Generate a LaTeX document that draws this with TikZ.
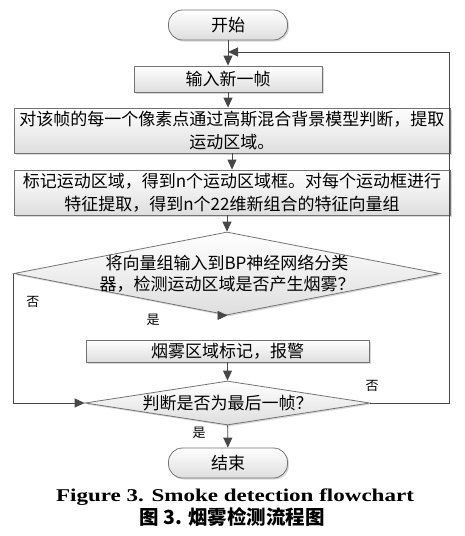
\documentclass[tikz,border=0pt]{standalone}
\usepackage{fontspec}
\setmainfont{Liberation Serif}
\newfontfamily\cjk{Noto Sans CJK SC}
\usetikzlibrary{arrows.meta, shapes.geometric, shadows}

\tikzset{
  link/.style={draw=black!72, line width=0.9pt},
  arr/.style={link, -{Triangle[length=10pt,width=9pt]}},
  procbox/.style={draw=black!55, line width=0.8pt, top color=white, bottom color=black!13,
    drop shadow={shadow xshift=1.5pt, shadow yshift=-1.5pt, opacity=0.3}, inner sep=0pt,
    font=\cjk\fontsize{17}{22.5}\selectfont, align=center},
  term/.style={procbox, rounded corners=14pt, minimum width=119pt, minimum height=30pt},
  decide/.style={procbox, diamond, aspect=2},
  tag/.style={font=\cjk\fontsize{13}{13}\selectfont}
}

\begin{document}
\begin{tikzpicture}[x=1pt, y=-1pt]
  \useasboundingbox (0,0) rectangle (465,536);

  % Steps
  \node[term] (start) at (228,25) {开始};
  \node[procbox, minimum width=188pt, minimum height=26pt] (input) at (228,79) {输入新一帧};
  \node[procbox, minimum width=436pt, minimum height=45pt] (detect) at (232,130.5)
    {对该帧的每一个像素点通过高斯混合背景模型判断，提取\\运动区域。};
  \node[procbox, minimum width=436pt, minimum height=45pt] (mark) at (232,192.5)
    {标记运动区域，得到n个运动区域框。对每个运动框进行\\特征提取，得到n个22维新组合的特征向量组};
  \node[decide, minimum width=426pt, minimum height=83pt] (smoke) at (227,273.5) {};
  \node[font=\cjk\fontsize{17}{21}\selectfont, align=center] (smoketxt) at (smoke)
    {将向量组输入到BP神经网络分类\\器，检测运动区域是否产生烟雾？};
  \node[procbox, minimum width=283pt, minimum height=22pt] (alarm) at (227.5,351) {烟雾区域标记，报警};
  \node[decide, minimum width=285pt, minimum height=44pt] (last) at (227.5,403) {};
  \node[font=\cjk\fontsize{17}{21}\selectfont] (lasttxt) at (last) {判断是否为最后一帧？};
  \node[term] (end) at (228,463) {结束};

  % Connectors
  \coordinate (loopr) at (449,52);
  \draw[arr] (start) -- (input);
  \draw[arr] (input.south) -- (input.south |- detect.north);
  \draw[arr] (detect) -- (mark);
  \draw[arr] (mark.south -| smoke.north) -- (smoke.north);
  \draw[arr] (smoke.south) -- (smoke.south -| alarm.north);
  \draw[arr] (alarm) -- (last);
  \draw[arr] (last) -- (end);
  \draw[arr] (smoke.west) |- (last.west);
  \draw[arr] (last.east) -| (loopr) -- (start.south |- loopr);

  % Labels
  \node[tag] (no1) at (33,302) {否};
  \node[tag] (yes1) at (153,320) {是};
  \node[tag] (no2) at (372,386) {否};
  \node[tag] (yes2) at (199,433) {是};

  % Caption
  \node[font=\bfseries\fontsize{18}{20}\selectfont, xscale=1.28, transform shape] (capen) at (235,497)
    {Figure 3. Smoke detection flowchart};
  \node[font=\cjk\bfseries\fontsize{19.5}{21}\selectfont] (capzh) at (232,517) {图 3. 烟雾检测流程图};
\end{tikzpicture}
\end{document}
